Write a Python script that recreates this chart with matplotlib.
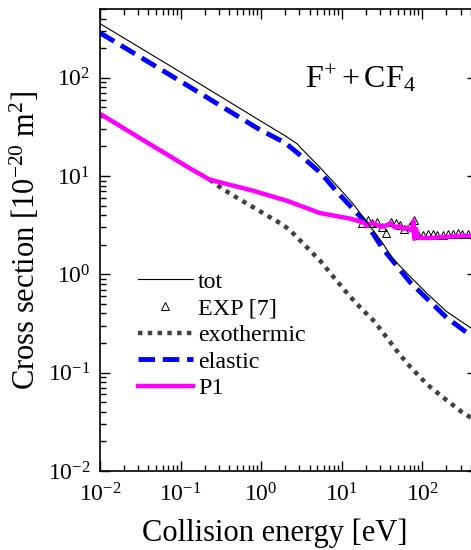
import numpy as np
import matplotlib
matplotlib.use("Agg")
import matplotlib.pyplot as plt

plt.rcParams['font.family'] = ['Liberation Serif', 'DejaVu Serif']
plt.rcParams['mathtext.fontset'] = 'custom'
plt.rcParams['mathtext.rm'] = 'Liberation Serif'
plt.rcParams['mathtext.it'] = 'Liberation Serif:italic'

# total cross section
tot_E = [0.01, 0.1, 0.97, 2.0, 2.8, 3.3, 5.4, 8.7, 13.8, 20.6, 31.6, 43, 71, 115, 200, 390, 480]
tot_s = [355, 114, 36.6, 25.6, 21.3, 18.4, 12.2, 8.0, 5.25, 3.4, 2.14, 1.45, 0.95, 0.64, 0.42, 0.29, 0.265]

# elastic
el_E = [0.01, 0.1, 0.97, 1.97, 3.3, 5.6, 8.9, 14.5, 20.4, 31.6, 71, 200, 355, 480]
el_s = [286, 92, 29.5, 21.9, 15.5, 10.6, 6.8, 4.45, 3.3, 1.88, 0.83, 0.365, 0.257, 0.23]

# exothermic
ex_E = [0.23, 0.34, 0.55, 0.89, 1.45, 1.86, 2.3, 5.4, 8.7, 12.6, 18, 25.7, 36, 52, 71, 115, 182, 309, 400, 480]
ex_s = [9.2, 7.3, 5.75, 4.57, 3.6, 3.2, 2.8, 1.38, 0.86, 0.6, 0.44, 0.33, 0.23, 0.155, 0.115, 0.076, 0.056, 0.040, 0.035, 0.032]

# P1
p1_E = [0.01, 0.042, 0.074, 0.13, 0.23, 0.79, 2.1, 5.4, 12.6, 18.2, 21, 24, 27, 31, 36, 41, 46, 52, 58,
        65, 72, 76, 78, 80, 84, 90, 100, 115, 135, 160, 190, 230, 280, 340, 400, 480]
p1_s = [43, 21, 15.9, 12.0, 9.2, 7.1, 5.6, 4.2, 3.7, 3.4, 3.1, 3.35, 3.2, 3.05, 3.15, 3.3, 3.0, 3.1, 2.9,
        3.0, 2.8, 3.0, 3.5, 2.3, 2.9, 2.35, 2.35, 2.35, 2.35, 2.38, 2.4, 2.42, 2.45, 2.48, 2.45, 2.45]

# experiment [7]
exp_E = [17.8, 21, 24, 27.5, 31.6, 36, 40.7, 46.8, 52.5, 60, 70, 79, 88, 102, 117, 135, 155, 182, 209, 240, 275, 316, 372]
exp_s = [3.3, 3.6, 3.3, 3.4, 3.0, 2.65, 3.4, 3.3, 3.2, 2.9, 3.1, 3.6, 2.5, 2.5, 2.55, 2.55, 2.5, 2.5, 2.6, 2.6, 2.65, 2.6, 2.6]

fig = plt.figure(figsize=(4.71, 5.5), dpi=100)
ax = fig.add_axes([100/471, 1 - 471/550, 377/471, 462/550])

ax.plot(tot_E, tot_s, color='black', lw=0.8, label='tot', zorder=3)
ax.plot(exp_E, exp_s, ls='none', marker='^', ms=5.5, mfc='none', mec='black', mew=0.7,
        label='EXP [7]', zorder=2)
ax.plot(ex_E, ex_s, color='#404040', lw=3.2, dashes=(1, 1.2), label='exothermic', zorder=2)
ax.plot(el_E, el_s, color='#0000ff', lw=3.5, dashes=(3.4, 1.6), label='elastic', zorder=2)
ax.plot(p1_E, p1_s, color='#ff00ff', lw=3.2, label='P1', zorder=2.5)

ax.set_xscale('log')
ax.set_yscale('log')
ax.set_xlim(0.01, 480)
ax.set_ylim(0.01, 500)

ax.tick_params(which='both', direction='in', top=True, right=True, labelsize=17, width=1)
ax.tick_params(which='major', length=7)
ax.tick_params(which='minor', length=4)
ax.tick_params(axis='x', which='major', pad=9)
ax.tick_params(axis='y', which='major', pad=7)
ax.xaxis.set_major_locator(matplotlib.ticker.LogLocator(base=10, numticks=10))
ax.xaxis.set_minor_locator(matplotlib.ticker.LogLocator(base=10, subs=np.arange(2, 10), numticks=20))
ax.yaxis.set_minor_locator(matplotlib.ticker.LogLocator(base=10, subs=np.arange(2, 10), numticks=20))
ax.xaxis.set_minor_formatter(matplotlib.ticker.NullFormatter())
ax.yaxis.set_minor_formatter(matplotlib.ticker.NullFormatter())
for sp in ax.spines.values():
    sp.set_linewidth(1.2)

ax.set_xlabel('Collision energy [eV]', fontsize=22)
ax.xaxis.set_label_coords(0.464, -0.102)
ax.set_ylabel(r'Cross section [$10^{-20}$ m$^{2}$]', fontsize=22, labelpad=4)

ax.text(0.69, 0.85, r'$\mathrm{F}^{+} + \mathrm{CF}_{4}$', transform=ax.transAxes,
        fontsize=23, ha='center', va='center')

ax.legend(loc='upper left', bbox_to_anchor=(0.10, 0.433), frameon=False, fontsize=17.3,
          handlelength=2.3, handletextpad=0.2, labelspacing=0.2, borderpad=0, borderaxespad=0)

fig.savefig('out.png', dpi=100)
